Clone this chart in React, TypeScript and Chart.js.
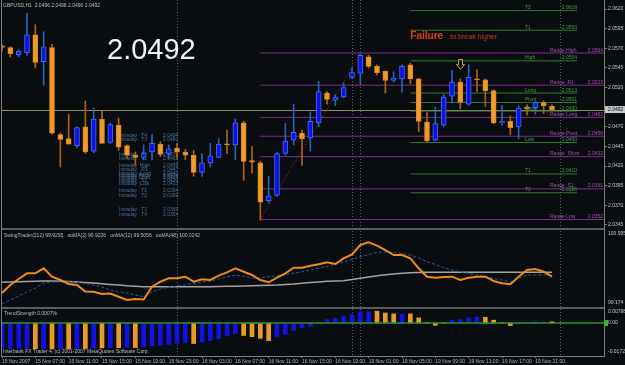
import React, { useEffect, useRef } from "react";
import { Chart, registerables } from "chart.js";

Chart.register(...registerables);

// ---------------- DATA ----------------
const symbol = "GBPUSD,H1";

const opens = [
  2.0573, 2.0571, 2.0562, 2.0564, 2.0587, 2.0553, 2.0571, 2.0460, 2.0455, 2.0446,
  2.0470, 2.0439, 2.0480, 2.0450, 2.0472, 2.0446, 2.0434, 2.0431, 2.0438, 2.0448,
  2.0436, 2.0443, 2.0438, 2.0434, 2.0412, 2.0424, 2.0431, 2.0448, 2.0447, 2.0475,
  2.0427, 2.0424, 2.0376, 2.0383, 2.0436, 2.0453, 2.0462, 2.0456, 2.0475, 2.0513,
  2.0504, 2.0508, 2.0533, 2.0538, 2.0559, 2.0547, 2.0541, 2.0529, 2.0531, 2.0549,
  2.0531, 2.0476, 2.0453, 2.0472, 2.0509, 2.0527, 2.0499, 2.0531, 2.0530, 2.0516,
  2.0475, 2.0477, 2.0470, 2.0495, 2.0494, 2.0501, 2.0496,
];
const highs = [
  2.0575, 2.0572, 2.0568, 2.0615, 2.0600, 2.0591, 2.0575, 2.0462, 2.0486, 2.0470,
  2.0503, 2.0494, 2.0491, 2.0475, 2.0481, 2.0447, 2.0438, 2.0447, 2.0460, 2.0451,
  2.0447, 2.0449, 2.0441, 2.0440, 2.0436, 2.0449, 2.0455, 2.0466, 2.0480, 2.0477,
  2.0445, 2.0426, 2.0407, 2.0438, 2.0474, 2.0499, 2.0466, 2.0489, 2.0528, 2.0515,
  2.0511, 2.0526, 2.0545, 2.0563, 2.0561, 2.0549, 2.0541, 2.0540, 2.0549, 2.0551,
  2.0532, 2.0489, 2.0495, 2.0511, 2.0542, 2.0531, 2.0549, 2.0543, 2.0531, 2.0517,
  2.0497, 2.0484, 2.0497, 2.0498, 2.0502, 2.0503, 2.0498,
];
const lows = [
  2.0566, 2.0559, 2.0559, 2.0561, 2.0545, 2.0523, 2.0461, 2.0419, 2.0448, 2.0443,
  2.0436, 2.0437, 2.0449, 2.0449, 2.0440, 2.0430, 2.0421, 2.0428, 2.0428, 2.0432,
  2.0430, 2.0430, 2.0428, 2.0407, 2.0407, 2.0419, 2.0431, 2.0436, 2.0428, 2.0402,
  2.0411, 2.0351, 2.0373, 2.0381, 2.0434, 2.0447, 2.0421, 2.0439, 2.0470, 2.0499,
  2.0497, 2.0507, 2.0532, 2.0525, 2.0545, 2.0536, 2.0513, 2.0527, 2.0514, 2.0525,
  2.0464, 2.0450, 2.0452, 2.0470, 2.0500, 2.0493, 2.0497, 2.0515, 2.0496, 2.0474,
  2.0472, 2.0460, 2.0455, 2.0485, 2.0486, 2.0487, 2.0490,
];
const closes = [
  2.0571, 2.0563, 2.0566, 2.0587, 2.0552, 2.0572, 2.0462, 2.0454, 2.0448, 2.0469,
  2.0438, 2.0480, 2.0449, 2.0473, 2.0444, 2.0434, 2.0431, 2.0436, 2.0449, 2.0435,
  2.0442, 2.0438, 2.0434, 2.0412, 2.0424, 2.0433, 2.0448, 2.0447, 2.0475, 2.0426,
  2.0425, 2.0374, 2.0382, 2.0436, 2.0452, 2.0463, 2.0455, 2.0477, 2.0515, 2.0505,
  2.0508, 2.0520, 2.0539, 2.0561, 2.0547, 2.0539, 2.0529, 2.0532, 2.0547, 2.0531,
  2.0477, 2.0452, 2.0474, 2.0508, 2.0527, 2.0501, 2.0533, 2.0530, 2.0516, 2.0475,
  2.0477, 2.0469, 2.0494, 2.0493, 2.0501, 2.0497, 2.0492,
];

const timeTickLabels = [
  "15 Nov 2007", "15 Nov 07:00", "15 Nov 11:00", "15 Nov 15:00", "15 Nov 19:00",
  "15 Nov 23:00", "16 Nov 03:00", "16 Nov 07:00", "16 Nov 11:00", "16 Nov 15:00",
  "16 Nov 19:00", "19 Nov 01:00", "19 Nov 05:00", "19 Nov 09:00", "19 Nov 13:00",
  "19 Nov 17:00", "19 Nov 21:00",
];
const barsPerTimeTick = 4;
const priceTicks = [2.0345, 2.037, 2.0395, 2.042, 2.0445, 2.047, 2.052, 2.0545, 2.057, 2.0595, 2.062];
const daySeparatorBars = [21, 42, 43, 67];

const rangeNames = ["Range High", "Range  R1", "Range Long", "Range Pivot", "Range  Short", "Range  S1", "Range Low"];
const rangeLevels = [2.0564, 2.0523, 2.0482, 2.0458, 2.0432, 2.0391, 2.0352];
const rangeStartBar = 31;

const targetNames = ["T2", "T1", "High", "Long", "Pivot", "Short", "Low", "T1", "T2"];
const targetLevels = [2.0618, 2.0593, 2.0554, 2.0513, 2.0501, 2.049, 2.045, 2.041, 2.0386];
const targetStartBar = 49;
const targetEndBar = 69;

const swingLineBars = [31, 43];
const swingLinePrices = [2.0352, 2.0563];

const intradayNames = [
  "Intraday   T4", "Intraday   T3", "Intraday   T2", "Intraday   T1", "Intraday  High",
  "Intraday   R1", "Intraday  Long", "Intraday Pivot", "Intraday Short", "Intraday   S1",
  "Intraday  Low", "Intraday   T1", "Intraday   T2", "Intraday   T3", "Intraday   T4",
];
const intradayValues = [
  2.0494, 2.0482, 2.047, 2.0462, 2.0455, 2.0447, 2.044, 2.0434, 2.0428, 2.042,
  2.0413, 2.0394, 2.0382, 2.0366, 2.0354,
];

const swingTrader = [
  99.520, 99.704, 99.843, 99.974, 99.974, 100.089, 99.896, 99.820, 99.727, 99.704,
  99.554, 99.550, 99.497, 99.508, 99.434, 99.358, 99.381, 99.370, 99.665, 99.780,
  99.859, 99.859, 99.896, 99.780, 99.836, 99.820, 99.919, 99.997, 100.089, 100.011,
  99.935, 99.820, 99.767, 99.873, 99.974, 100.103, 100.103, 100.149, 100.182, 100.228,
  100.189, 100.320, 100.412, 100.627, 100.689, 100.611, 100.511, 100.396, 100.396, 100.320,
  100.089, 99.896, 99.873, 99.889, 99.896, 99.820, 99.873, 99.896, 99.896, 99.797,
  99.744, 99.720, 99.896, 100.050, 100.073, 100.011, 99.896,
];
const ma12 = [
  99.266, 99.358, 99.451, 99.543, 99.635, 99.750, 99.773, 99.780, 99.780, 99.773,
  99.739, 99.704, 99.658, 99.589, 99.543, 99.520, 99.474, 99.434, 99.543, 99.612,
  99.658, 99.681, 99.704, 99.744, 99.773, 99.797, 99.843, 99.889, 99.935, 99.900,
  99.866, 99.866, 99.896, 99.912, 99.935, 99.981, 100.011, 100.050, 100.089, 100.131,
  100.182, 100.235, 100.292, 100.357, 100.408, 100.459, 100.465, 100.459, 100.431, 100.396,
  100.327, 100.242, 100.177, 100.103, 100.050, 100.011, 99.974, 99.935, 99.896, 99.859,
  99.820, 99.780, 99.859, 99.935, 99.935, 99.935, 99.935,
];
const ma48 = [
  99.767, 99.773, 99.778, 99.785, 99.792, 99.797, 99.797, 99.792, 99.785, 99.773,
  99.762, 99.750, 99.732, 99.716, 99.704, 99.688, 99.677, 99.665, 99.665, 99.665,
  99.665, 99.665, 99.665, 99.665, 99.665, 99.665, 99.670, 99.674, 99.677, 99.681,
  99.686, 99.693, 99.700, 99.704, 99.716, 99.727, 99.744, 99.760, 99.775, 99.790,
  99.797, 99.800, 99.830, 99.860, 99.890, 99.920, 99.940, 99.960, 99.975, 99.985,
  99.993, 99.997, 99.997, 99.997, 99.997, 99.997, 99.997, 99.997, 99.997, 99.997,
  99.997, 99.997, 99.997, 99.997, 99.997, 99.997, 99.997,
];
const oscMin = 99.174;
const oscMax = 100.9957;

const trendStrength = [
  -0.0133, -0.0134, -0.0133, -0.0132, -0.0134, -0.0133, -0.0134, -0.0133, -0.0134, -0.0132,
  -0.0133, -0.0131, -0.013, -0.0128, -0.0129, -0.0127, -0.0128, -0.0123, -0.0118, -0.0115,
  -0.0112, -0.0107, -0.0102, -0.0107, -0.01, -0.0092, -0.0081, -0.0066, -0.0055, -0.0065,
  -0.0071, -0.008, -0.0092, -0.0071, -0.006, -0.0039, -0.0024, -0.0017, 0.0002, 0.0018,
  0.0024, 0.0036, 0.0045, 0.0059, 0.0059, 0.0062, 0.0053, 0.0048, 0.0048, 0.0048,
  0.0027, 0.0003, -0.0012, 0.0001, 0.0015, 0.0018, 0.0027, 0.0032, 0.003, 0.0015,
  0.0003, -0.0013, -0.0005, 0.0001, 0.0006, 0.0006, 0.0007,
];
const trendDirection = (
  "bbbbobobob" + "obobobobbb" + "bbbobbbbbo" + "ooobbbbbbb" + "bbbbbooobo" + "oooobbbboo" + "oobbbbo"
).split("");
const trendMin = -0.01721;
const trendMax = 0.00788;

const priceMin = 2.03399;
const priceMax = 2.06315;

// ---------------- STYLE ----------------
const BG = "#0a0d10";
const FONT = '"Liberation Sans", Arial, sans-serif';
const AXIS = "#7c7c7c";
const BLUE = "#1212e4";
const ORANGE = "#f09b2c";
const PURPLE = "#7a2d8c";
const GREEN = "#2c7a2c";

const intradayRowY = [136, 140, 155, 159, 166, 170, 174, 176, 178, 181, 184, 191, 196, 210, 215];

const overlayPlugin = {
  id: "mt4Overlay",
  beforeDraw(chart: any) {
    const { ctx, width, height } = chart;
    ctx.save();
    ctx.fillStyle = BG;
    ctx.fillRect(0, 0, width, height);
    ctx.restore();
  },
  beforeDatasetsDraw(chart: any) {
    const { ctx, chartArea: ca, scales } = chart;
    const xs = scales.x;
    const ys = scales.y;
    ctx.save();
    ctx.font = `5px ${FONT}`;
    ctx.fillStyle = "#4a6e96";
    ctx.textBaseline = "middle";
    ctx.textAlign = "left";
    intradayNames.forEach((name, k) => {
      const ty = ca.top + intradayRowY[k];
      ctx.fillText(name, ca.left + 118, ty);
      ctx.fillText(intradayValues[k].toFixed(4), ca.left + 162, ty);
    });
    ctx.strokeStyle = "#56616c";
    ctx.lineWidth = 1;
    ctx.setLineDash([1, 2]);
    daySeparatorBars.forEach((b) => {
      const px = Math.round(xs.getPixelForValue(b)) + 0.5;
      ctx.beginPath();
      ctx.moveTo(px, ca.top);
      ctx.lineTo(px, ca.bottom);
      ctx.stroke();
    });
    ctx.setLineDash([]);
    const bidY = Math.round(ys.getPixelForValue(closes[closes.length - 1])) + 0.5;
    ctx.strokeStyle = "#9b8a6c";
    ctx.beginPath();
    ctx.moveTo(ca.left, bidY);
    ctx.lineTo(ca.right, bidY);
    ctx.stroke();
    ctx.restore();
  },
  afterDatasetsDraw(chart: any) {
    const { ctx, chartArea: ca, scales } = chart;
    const xs = scales.x;
    const ys = scales.y;
    const yo = scales.yOsc;
    const yt = scales.yTrend;
    ctx.save();
    ctx.font = `5px ${FONT}`;
    ctx.textBaseline = "alphabetic";
    // range labels
    rangeLevels.forEach((lv, k) => {
      const py = ys.getPixelForValue(lv);
      ctx.fillStyle = "#a24cb2";
      ctx.textAlign = "left";
      ctx.fillText(rangeNames[k], ca.right - 54, py - 1.5);
      ctx.textAlign = "right";
      ctx.fillText(lv.toFixed(4), ca.right - 1, py - 1.5);
    });
    // target labels
    const tEnd = xs.getPixelForValue(targetEndBar);
    targetLevels.forEach((lv, k) => {
      const py = ys.getPixelForValue(lv);
      ctx.fillStyle = "#38a038";
      ctx.textAlign = "left";
      ctx.fillText(targetNames[k], ca.right - 79, py - 1.5);
      ctx.textAlign = "right";
      ctx.fillText(lv.toFixed(4), tEnd, py - 1.5);
    });

    // panel separators
    ctx.fillStyle = "#5e5e5e";
    [ys.bottom, yo.bottom].forEach((b: number) => {
      ctx.fillRect(ca.left, Math.round(b) - 1, ca.right - ca.left, 2);
    });
    // left border
    ctx.fillStyle = AXIS;
    ctx.fillRect(ca.left, ca.top, 1, ca.bottom - ca.top);

    // headers
    ctx.textAlign = "left";
    ctx.textBaseline = "middle";
    ctx.fillStyle = "#bcbcbc";
    const L = opens.length - 1;
    ctx.fillText(
      `${symbol}  ${opens[L].toFixed(4)} ${highs[L].toFixed(4)} ${lows[L].toFixed(4)} ${closes[L].toFixed(4)}`,
      ca.left + 2,
      ca.top + 6
    );
    ctx.fillText(
      "SwingTrader(212) 99.9295   ooMA(2) 99.9226   ooMA(12) 99.5056   ooMA(48) 100.0242",
      ca.left + 3,
      yo.top + 7
    );
    ctx.fillText("TrendStrength 0.0007%", ca.left + 3, yt.top + 6);
    ctx.fillText("Interbank FX Trader 4, (c) 2001-2007 MetaQuotes Software Corp.", ca.left + 2, yt.bottom - 4);

    // sub-panel axis labels
    const ax = ca.right + 4;
    ctx.fillStyle = "#c4c4c4";
    ctx.fillText(oscMax.toFixed(4), ax, yo.top + 5);
    ctx.fillText(oscMin.toFixed(3), ax, yo.bottom - 5);
    ctx.fillText(trendMax.toFixed(5), ax, yt.top + 4);
    ctx.fillText(trendMin.toFixed(5), ax, yt.bottom - 4);
    const z = yt.getPixelForValue(0);
    ctx.fillStyle = "#22c422";
    ctx.fillRect(ca.right + 1, z - 3, 3, 6);
    ctx.fillStyle = "#c4c4c4";
    ctx.fillText("0.00", ax, z);

    // current price box
    const last = closes[L];
    const py = ys.getPixelForValue(last);
    ctx.fillStyle = "#c8c8c8";
    ctx.fillRect(ca.right + 1, py - 3.5, 21, 7);
    ctx.fillStyle = "#101010";
    ctx.fillText(last.toFixed(4), ax, py);

    // big price
    ctx.fillStyle = "#f2f2f2";
    ctx.font = `29px ${FONT}`;
    ctx.textBaseline = "alphabetic";
    ctx.fillText(last.toFixed(4), ca.left + 106, ca.top + 59);

    // Failure annotation
    const fx = xs.getPixelForValue(targetStartBar);
    const fy = ys.getPixelForValue(targetLevels[1]) + 9;
    ctx.fillStyle = "#e23c16";
    ctx.font = `bold 10px ${FONT}`;
    ctx.fillText("Failure", fx, fy);
    ctx.font = `7px ${FONT}`;
    ctx.fillStyle = "#d8341a";
    ctx.fillText("to break higher", fx + 40, fy);

    // down arrow
    const axp = Math.round(xs.getPixelForValue(55)) + 0.5;
    const top = Math.round(ys.getPixelForValue(targetLevels[2])) - 1.5;
    ctx.strokeStyle = "#b8a82c";
    ctx.lineWidth = 1;
    ctx.beginPath();
    ctx.moveTo(axp - 2, top);
    ctx.lineTo(axp + 2, top);
    ctx.lineTo(axp + 2, top + 5);
    ctx.lineTo(axp + 4, top + 5);
    ctx.lineTo(axp, top + 10);
    ctx.lineTo(axp - 4, top + 5);
    ctx.lineTo(axp - 2, top + 5);
    ctx.closePath();
    ctx.stroke();
    ctx.restore();
  },
};

export default function App() {
  const ref = useRef<HTMLCanvasElement>(null);

  useEffect(() => {
    const xMin = -0.12;
    const xMax = 72.24;
    const bull = closes.map((c, i) => c >= opens[i]);
    const idx = closes.map((_, i) => i);

    const levelSets: any[] = [];
    rangeLevels.forEach((lv) =>
      levelSets.push({
        type: "line",
        yAxisID: "y",
        data: [
          { x: rangeStartBar, y: lv },
          { x: xMax, y: lv },
        ],
        borderColor: PURPLE,
        borderWidth: 1,
        pointRadius: 0,
        order: 20,
      })
    );
    targetLevels.forEach((lv) =>
      levelSets.push({
        type: "line",
        yAxisID: "y",
        data: [
          { x: targetStartBar, y: lv },
          { x: targetEndBar, y: lv },
        ],
        borderColor: GREEN,
        borderWidth: 1,
        pointRadius: 0,
        order: 20,
      })
    );

    const datasets: any[] = [
      ...levelSets,
      {
        type: "line",
        yAxisID: "y",
        data: swingLineBars.map((b, k) => ({ x: b, y: swingLinePrices[k] })),
        borderColor: "#c42020",
        borderWidth: 1,
        borderDash: [1, 2],
        pointRadius: 0,
        order: 19,
      },
      {
        type: "bar",
        yAxisID: "y",
        data: idx.map((i) => ({ x: i, y: [lows[i], highs[i]] })),
        backgroundColor: bull.map((b) => (b ? "#2a62b8" : "#a8641c")),
        borderWidth: 0,
        barThickness: 1,
        grouped: false,
        order: 6,
      },
      {
        type: "bar",
        yAxisID: "y",
        data: idx.map((i) => ({ x: i, y: [opens[i], closes[i]] })),
        backgroundColor: bull.map((b) => (b ? BLUE : ORANGE)),
        borderColor: bull.map((b) => (b ? "#3a6cf0" : "#d98620")),
        borderWidth: 1,
        borderSkipped: false,
        barThickness: 5,
        minBarLength: 1,
        grouped: false,
        order: 5,
      },
      {
        type: "line",
        yAxisID: "yOsc",
        data: idx.map((i) => ({ x: i, y: ma48[i] })),
        borderColor: "#a4a4a4",
        borderWidth: 1.5,
        pointRadius: 0,
        order: 4,
      },
      {
        type: "line",
        yAxisID: "yOsc",
        data: idx.map((i) => ({ x: i, y: ma12[i] })),
        borderColor: "#1f5ca4",
        borderWidth: 1,
        borderDash: [3, 2],
        pointRadius: 0,
        order: 3,
      },
      {
        type: "line",
        yAxisID: "yOsc",
        data: idx.map((i) => ({ x: i, y: swingTrader[i] })),
        borderColor: "#f08a1c",
        borderWidth: 2,
        pointRadius: 0,
        order: 2,
      },
      {
        type: "bar",
        yAxisID: "yTrend",
        data: idx.map((i) => ({ x: i, y: trendStrength[i] })),
        backgroundColor: trendDirection.map((d) => (d === "b" ? BLUE : "#e89a2a")),
        borderWidth: 0,
        barThickness: 4,
        grouped: false,
        order: 3,
      },
      {
        type: "line",
        yAxisID: "yTrend",
        data: [
          { x: xMin, y: 0 },
          { x: xMax, y: 0 },
        ],
        borderColor: "#2a962a",
        borderWidth: 1.5,
        pointRadius: 0,
        order: 1,
      },
    ];

    const zeroPad = (s: any) => {
      s.paddingTop = 0;
      s.paddingBottom = 0;
      s.paddingLeft = 0;
      s.paddingRight = 0;
    };

    const subAxis = (weight: number, min: number, max: number) => ({
      type: "linear",
      position: "right",
      stack: "panes",
      stackWeight: weight,
      min,
      max,
      ticks: { display: false },
      grid: { display: true, drawOnChartArea: false, drawTicks: false, color: AXIS },
      border: { display: true, color: AXIS },
      afterFit: (s: any) => {
        s.width = 21;
        zeroPad(s);
      },
    });

    const chart = new Chart(ref.current as HTMLCanvasElement, {
      type: "line",
      data: { datasets },
      options: {
        responsive: false,
        animation: false,
        devicePixelRatio: 1,
        events: [],
        layout: { padding: { left: 1, right: 0, top: 0, bottom: 0 } },
        plugins: {
          legend: { display: false },
          tooltip: { enabled: false },
          title: { display: false },
        },
        elements: { point: { radius: 0 }, line: { tension: 0 } },
        scales: {
          x: {
            type: "linear",
            min: xMin,
            max: xMax,
            offset: false,
            afterBuildTicks: (s: any) => {
              s.ticks = timeTickLabels.map((_, k) => ({ value: k * barsPerTimeTick }));
            },
            afterFit: (s: any) => {
              s.height = 9;
              zeroPad(s);
            },
            ticks: {
              callback: (_v: any, i: number) => timeTickLabels[i] ?? "",
              align: "start",
              maxRotation: 0,
              minRotation: 0,
              autoSkip: false,
              color: "#b4b4b4",
              font: { family: FONT, size: 5 },
              padding: 1,
            },
            grid: { display: true, drawOnChartArea: false, drawTicks: true, tickLength: 2, color: AXIS, offset: false },
            border: { display: true, color: AXIS },
          },
          y: {
            type: "linear",
            position: "right",
            stack: "panes",
            stackWeight: 229,
            min: priceMin,
            max: priceMax,
            afterBuildTicks: (s: any) => {
              s.ticks = priceTicks.map((v) => ({ value: v }));
            },
            afterFit: (s: any) => {
              s.width = 21;
              zeroPad(s);
            },
            ticks: {
              callback: (v: any) => Number(v).toFixed(4),
              color: "#c4c4c4",
              font: { family: FONT, size: 5 },
              padding: 1,
              autoSkip: false,
            },
            grid: { display: true, drawOnChartArea: false, drawTicks: true, tickLength: 3, color: AXIS },
            border: { display: true, color: AXIS },
          },
          yOsc: subAxis(79, oscMin, oscMax),
          yTrend: subAxis(48, trendMin, trendMax),
        },
      } as any,
      plugins: [overlayPlugin],
    });
    return () => chart.destroy();
  }, []);

  return (
    <div style={{ position: "fixed", left: 0, top: 0, width: 625, height: 365, background: BG }}>
      <canvas ref={ref} width={625} height={365} style={{ display: "block", width: 625, height: 365 }} />
    </div>
  );
}
